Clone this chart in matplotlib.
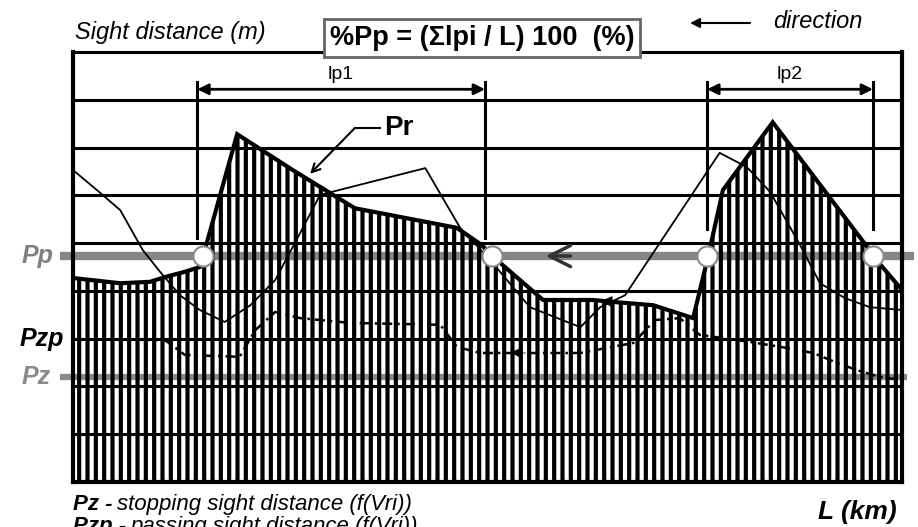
import matplotlib
matplotlib.use('Agg')
import matplotlib.pyplot as plt

plt.rcParams['font.family'] = ['Liberation Sans', 'DejaVu Sans']
plt.rcParams['hatch.linewidth'] = 3.0
plt.rcParams['hatch.color'] = 'black'

# ---- data (x: chainage as % of L, y: sight distance in grid units) ----
pr_x = [0, 5.7, 9.3, 11.1, 13.5, 15.3, 15.7, 19.8, 26.5, 34.0, 46.3, 49.3, 50.7,
        56.7, 62.7, 65.1, 70.0, 74.8, 76.6, 78.4, 84.4, 95.8, 96.5, 100]
pr_y = [4.27, 4.16, 4.19, 4.29, 4.40, 4.50, 4.73, 7.28, 6.53, 5.73, 5.32, 4.96, 4.71,
        3.81, 3.81, 3.77, 3.70, 3.43, 4.71, 6.11, 7.53, 4.92, 4.73, 4.02]

thin_x = [0, 3.3, 5.7, 8.4, 10.5, 12.9, 15.3, 18.3, 21.4, 24.4, 27.4, 29.8, 42.5,
          46.7, 50.3, 55.1, 61.2, 63.6, 66.6, 78.0, 81.3, 84.1, 87.7, 90.1, 93.1, 96.1, 100]
thin_y = [6.53, 6.05, 5.69, 4.86, 4.40, 3.91, 3.60, 3.35, 3.70, 4.23, 5.21, 6.01, 6.57,
          5.32, 4.65, 3.66, 3.24, 3.66, 3.91, 6.89, 6.59, 6.07, 4.96, 4.16, 3.85, 3.66, 3.60]

low_x = [0, 11.1, 13.5, 20.1, 22.0, 24.4, 27.4, 33.4, 44.3, 46.3, 49.1, 61.2, 65.1,
         67.6, 70.2, 73.2, 75.6, 81.7, 85.3, 89.3, 92.2, 94.6, 97.3, 100]
low_y = [2.99, 2.97, 2.66, 2.62, 3.18, 3.56, 3.43, 3.33, 3.29, 2.83, 2.70, 2.70, 2.83,
         2.91, 3.39, 3.43, 3.08, 2.93, 2.83, 2.70, 2.49, 2.34, 2.20, 2.13]

pp_level = 4.73
pz_level = 2.20
pzp_level = 3.0
crossing_x = [15.7, 50.6, 76.5, 96.5]

lp_labels = ['lp1', 'lp2']
lp_start = [15.0, 76.5]
lp_end = [49.7, 96.5]
lp_bottom = [5.1, 5.3]
lp_top = 8.37
lp_arrow_y = 8.22

# ---- figure ----
fig = plt.figure(figsize=(9.18, 5.27), dpi=100)
ax = fig.add_axes([0.0795, 0.0854, 0.9031, 0.8159])
ax.set_xlim(0, 100)
ax.set_ylim(0, 9)
ax.set_xticks([])
ax.set_yticks([])
for s in ['left', 'right', 'bottom']:
    ax.spines[s].set_linewidth(3.0)
ax.spines['top'].set_linewidth(2.2)

# grey reference lines (beneath hatch)
ax.plot([-1.6, 101.4], [pp_level, pp_level], color='#858585', lw=6,
        solid_capstyle='butt', clip_on=False, zorder=1)
ax.plot([-1.6, 100.6], [pz_level, pz_level], color='#8a8a8a', lw=4.5,
        solid_capstyle='butt', clip_on=False, zorder=1)

# hatched area under Pr
ax.fill_between(pr_x, 0, pr_y, facecolor='none', edgecolor='black', hatch='||',
                linewidth=0, zorder=1.5)

# horizontal grid
for g in range(1, 9):
    ax.axhline(g, color='black', lw=2.2, zorder=2)

# lines
ax.plot(thin_x, thin_y, color='black', lw=1.3, zorder=3)
ax.plot(low_x, low_y, color='black', lw=1.8, ls=(0, (4, 2, 1, 2)), zorder=3)
ax.plot(pr_x, pr_y, color='black', lw=3.0, zorder=4, solid_joinstyle='miter')

# intersection circles
ax.scatter(crossing_x, [pp_level] * len(crossing_x), s=210, facecolor='white',
           edgecolor='#8a8a8a', linewidth=1.5, zorder=6)

# lp brackets
for lab, a, b, bot in zip(lp_labels, lp_start, lp_end, lp_bottom):
    ax.plot([a, a], [bot, lp_top], color='black', lw=2.2, zorder=5)
    ax.plot([b, b], [bot, lp_top], color='black', lw=2.2, zorder=5)
    ax.annotate('', xy=(a, lp_arrow_y), xytext=(b, lp_arrow_y),
                arrowprops=dict(arrowstyle='<|-|>', color='black', lw=2,
                                mutation_scale=16, shrinkA=0, shrinkB=0), zorder=5)
    ax.text((a + b) / 2, 8.53, lab, ha='center', va='center', fontsize=14,
            fontweight='medium', zorder=5)

# Pr label with leader
ax.plot([37.0, 34.0], [7.41, 7.41], color='black', lw=1.5, zorder=5)
ax.annotate('', xy=(28.6, 6.45), xytext=(34.0, 7.41),
            arrowprops=dict(arrowstyle='->', color='black', lw=1.5,
                            mutation_scale=15, shrinkA=0, shrinkB=0), zorder=5)
ax.text(37.5, 7.41, 'Pr', ha='left', va='center', fontsize=20,
        fontweight='bold', zorder=5)

# flow direction arrows along the lines
ax.annotate('', xy=(57.0, pp_level), xytext=(60.0, pp_level),
            arrowprops=dict(arrowstyle='->', color='#333333', lw=2.5,
                            mutation_scale=38, shrinkA=0, shrinkB=0), zorder=5)
ax.annotate('', xy=(63.7, 3.79), xytext=(65.5, 3.77),
            arrowprops=dict(arrowstyle='-|>', color='black', lw=0.5,
                            mutation_scale=18, shrinkA=0, shrinkB=0), zorder=5)
ax.annotate('', xy=(52.8, 2.71), xytext=(54.6, 2.70),
            arrowprops=dict(arrowstyle='-|>', color='black', lw=0.5,
                            mutation_scale=15, shrinkA=0, shrinkB=0), zorder=5)

# level labels
ax.text(-6.2, pp_level, 'Pp', ha='left', va='center', fontsize=18, color='#808080',
        fontweight='bold', fontstyle='italic', clip_on=False)
ax.text(-6.4, pzp_level, 'Pzp', ha='left', va='center', fontsize=18, color='black',
        fontweight='bold', fontstyle='italic', clip_on=False)
ax.text(-6.2, pz_level, 'Pz', ha='left', va='center', fontsize=18, color='#8a8a8a',
        fontweight='bold', fontstyle='italic', clip_on=False)

# top texts
fig.text(75 / 918, 1 - 33 / 527, 'Sight distance (m)', ha='left', va='center',
         fontsize=17, fontstyle='italic')
fig.text(482 / 918, 1 - 38 / 527, '%Pp = (Σlpi / L) 100  (%)', ha='center', va='center',
         fontsize=19.5, fontweight='bold', zorder=10,
         bbox=dict(boxstyle='square,pad=0.22', facecolor='white', edgecolor='#666666', lw=2))
ax.annotate('', xy=(690, 527 - 23), xytext=(750, 527 - 23), xycoords='figure pixels',
            textcoords='figure pixels',
            arrowprops=dict(arrowstyle='-|>', color='black', lw=1.5, mutation_scale=14,
                            shrinkA=0, shrinkB=0))
fig.text(773 / 918, 1 - 21 / 527, 'direction', ha='left', va='center',
         fontsize=17, fontstyle='italic')

# bottom texts
r = fig.canvas.get_renderer()
def two_part(y_px, head, tail):
    t1 = fig.text(73 / 918, 1 - y_px / 527, head, ha='left', va='baseline',
                  fontsize=16, fontweight='bold', fontstyle='italic')
    bb = t1.get_window_extent(renderer=r)
    fig.text(bb.x1 / 918 + 0.005, 1 - y_px / 527, tail, ha='left', va='baseline',
             fontsize=16, fontstyle='italic')

two_part(510, 'Pz -', 'stopping sight distance (f(Vri))')
two_part(532, 'Pzp -', 'passing sight distance (f(Vri))')

fig.text(897 / 918, 1 - 519 / 527, 'L (km)', ha='right', va='baseline',
         fontsize=19, fontweight='bold', fontstyle='italic')

fig.savefig('out.png', dpi=100)
